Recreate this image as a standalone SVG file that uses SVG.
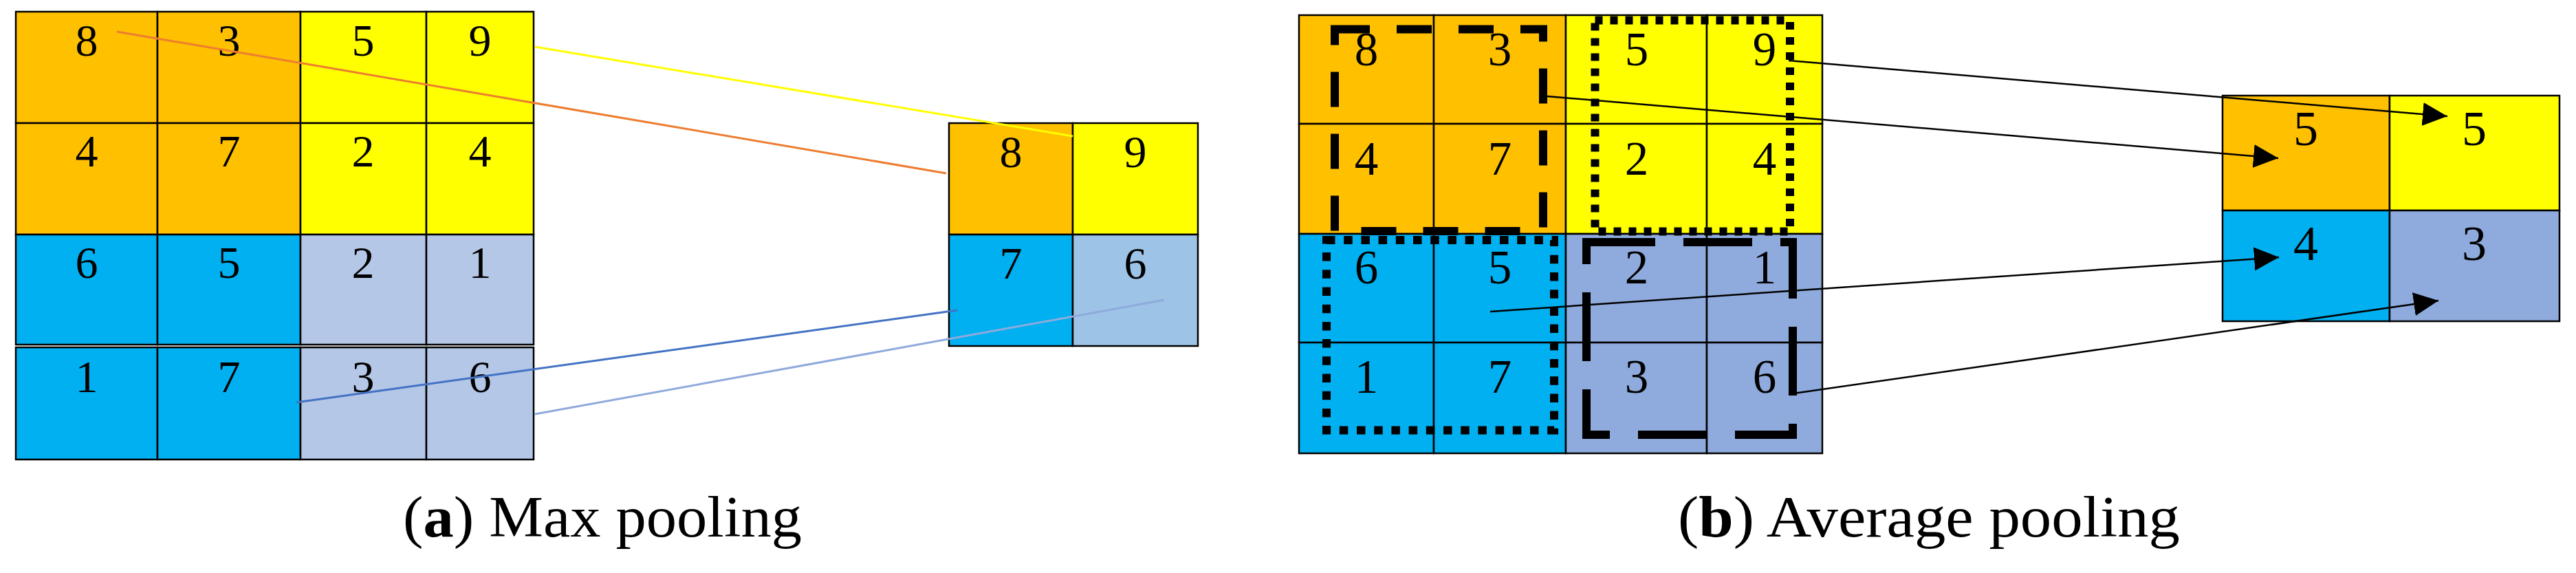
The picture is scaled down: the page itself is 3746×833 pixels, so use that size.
<svg xmlns="http://www.w3.org/2000/svg" width="3746" height="833" viewBox="0 0 3746 833">
<style>
.cell{stroke:#000;stroke-width:2.5}
.o{fill:#FFC000}.y{fill:#FFFF00}.c{fill:#00B0F0}.g{fill:#B4C7E7}.g2{fill:#9DC3E6}.g3{fill:#8FAADC}
.num{font-family:"Liberation Serif","Times New Roman",serif;text-anchor:middle;fill:#000}
.n1{font-size:66px}.n2{font-size:69px}.n3{font-size:72px}
.cap{font-family:"Liberation Serif","Times New Roman",serif;font-size:85px;fill:#000}
.win{fill:none;stroke:#000;stroke-width:12}
.arr{stroke:#000;stroke-width:2.5;fill:none;marker-end:url(#ah)}
.ln{stroke-width:3;fill:none}
</style>
<defs>
<marker id="ah" markerUnits="userSpaceOnUse" markerWidth="36" markerHeight="34" viewBox="0 0 36 34" refX="36" refY="17" orient="auto">
<path d="M0,0 L36,17 L0,34 z" fill="#000"/>
</marker>
</defs>
<rect width="3746" height="833" fill="#fff"/>

<g id="max-input">
<rect class="cell o" x="23" y="17" width="206" height="162"/>
<rect class="cell o" x="229" y="17" width="208" height="162"/>
<rect class="cell y" x="437" y="17" width="183" height="162"/>
<rect class="cell y" x="620" y="17" width="156" height="162"/>
<rect class="cell o" x="23" y="179" width="206" height="162"/>
<rect class="cell o" x="229" y="179" width="208" height="162"/>
<rect class="cell y" x="437" y="179" width="183" height="162"/>
<rect class="cell y" x="620" y="179" width="156" height="162"/>
<rect class="cell c" x="23" y="341" width="206" height="160"/>
<rect class="cell c" x="229" y="341" width="208" height="160"/>
<rect class="cell g" x="437" y="341" width="183" height="160"/>
<rect class="cell g" x="620" y="341" width="156" height="160"/>
<rect class="cell c" x="23" y="505" width="206" height="163"/>
<rect class="cell c" x="229" y="505" width="208" height="163"/>
<rect class="cell g" x="437" y="505" width="183" height="163"/>
<rect class="cell g" x="620" y="505" width="156" height="163"/>
<g class="num n1">
<text x="126" y="81">8</text><text x="333" y="81">3</text><text x="528" y="81">5</text><text x="698" y="81">9</text>
<text x="126" y="242">4</text><text x="333" y="242">7</text><text x="528" y="242">2</text><text x="698" y="242">4</text>
<text x="126" y="404">6</text><text x="333" y="404">5</text><text x="528" y="404">2</text><text x="698" y="404">1</text>
<text x="126" y="570">1</text><text x="333" y="570">7</text><text x="528" y="570">3</text><text x="698" y="570">6</text>
</g>
</g>

<g id="max-output">
<rect class="cell o" x="1380" y="179" width="180" height="162"/>
<rect class="cell y" x="1560" y="179" width="182" height="162"/>
<rect class="cell c" x="1380" y="341" width="180" height="162"/>
<rect class="cell g2" x="1560" y="341" width="182" height="162"/>
<g class="num n1">
<text x="1470" y="243">8</text><text x="1651" y="243">9</text>
<text x="1470" y="405">7</text><text x="1651" y="405">6</text>
</g>
</g>

<g id="max-connectors">
<line class="ln" stroke="#ED7D31" x1="170" y1="46" x2="1376" y2="252"/>
<line class="ln" stroke="#FFFF00" x1="778" y1="68" x2="1560" y2="198"/>
<line class="ln" stroke="#4472C4" x1="431" y1="585" x2="1392" y2="451"/>
<line class="ln" stroke="#8FAADC" x1="778" y1="602" x2="1693" y2="436"/>
</g>

<g id="avg-input">
<rect class="cell o" x="1889" y="22" width="196" height="158"/>
<rect class="cell o" x="2085" y="22" width="192" height="158"/>
<rect class="cell y" x="2277" y="22" width="205" height="158"/>
<rect class="cell y" x="2482" y="22" width="168" height="158"/>
<rect class="cell o" x="1889" y="180" width="196" height="160"/>
<rect class="cell o" x="2085" y="180" width="192" height="160"/>
<rect class="cell y" x="2277" y="180" width="205" height="160"/>
<rect class="cell y" x="2482" y="180" width="168" height="160"/>
<rect class="cell c" x="1889" y="340" width="196" height="158"/>
<rect class="cell c" x="2085" y="340" width="192" height="158"/>
<rect class="cell g3" x="2277" y="340" width="205" height="158"/>
<rect class="cell g3" x="2482" y="340" width="168" height="158"/>
<rect class="cell c" x="1889" y="498" width="196" height="161"/>
<rect class="cell c" x="2085" y="498" width="192" height="161"/>
<rect class="cell g3" x="2277" y="498" width="205" height="161"/>
<rect class="cell g3" x="2482" y="498" width="168" height="161"/>
<g class="num n2">
<text x="1987" y="95">8</text><text x="2181" y="95">3</text><text x="2380" y="95">5</text><text x="2566" y="95">9</text>
<text x="1987" y="254">4</text><text x="2181" y="254">7</text><text x="2380" y="254">2</text><text x="2566" y="254">4</text>
<text x="1987" y="412">6</text><text x="2181" y="412">5</text><text x="2380" y="412">2</text><text x="2566" y="412">1</text>
<text x="1987" y="571">1</text><text x="2181" y="571">7</text><text x="2380" y="571">3</text><text x="2566" y="571">6</text>
</g>
</g>

<g id="avg-windows">
<rect id="win-tl" class="win" x="1941" y="42.5" width="303" height="293.5" stroke-dasharray="51 39"/>
<rect id="win-tr" class="win" x="2319.5" y="29.5" width="283.5" height="307" stroke-dasharray="11 11"/>
<rect id="win-bl" class="win" x="1929" y="349" width="331" height="276.5" stroke-dasharray="12.5 12.7"/>
<rect id="win-br" class="win" x="2307" y="352" width="300" height="280" stroke-dasharray="100 41"/>
</g>

<g id="avg-output">
<rect class="cell o" x="3232" y="139" width="243" height="167"/>
<rect class="cell y" x="3475" y="139" width="247" height="167"/>
<rect class="cell c" x="3232" y="306" width="243" height="161"/>
<rect class="cell g3" x="3475" y="306" width="247" height="161"/>
<g class="num n3">
<text x="3353" y="211">5</text><text x="3598" y="211">5</text>
<text x="3353" y="378">4</text><text x="3598" y="378">3</text>
</g>
</g>

<g id="avg-connectors">
<line class="arr" x1="2601" y1="88" x2="3559" y2="169"/>
<line class="arr" x1="2250" y1="140" x2="3313" y2="230"/>
<line class="arr" x1="2167" y1="453" x2="3314" y2="374"/>
<line class="arr" x1="2601" y1="573" x2="3546" y2="437"/>
</g>

<g id="captions">
<text class="cap" x="586" y="780" textLength="580" lengthAdjust="spacingAndGlyphs">(<tspan font-weight="bold">a</tspan>) Max pooling</text>
<text class="cap" x="2440" y="780" textLength="730" lengthAdjust="spacingAndGlyphs">(<tspan font-weight="bold">b</tspan>) Average pooling</text>
</g>
</svg>
